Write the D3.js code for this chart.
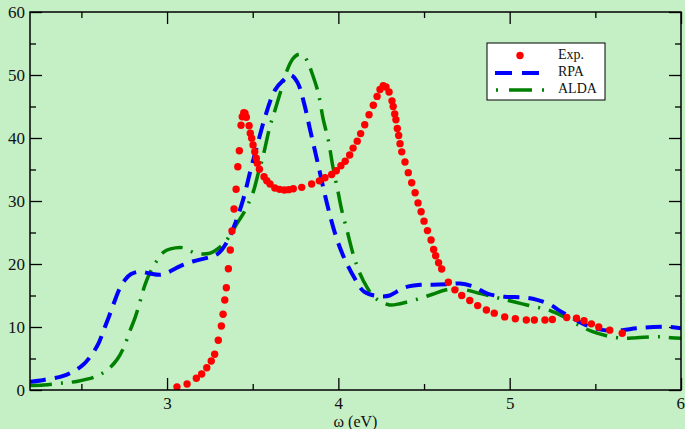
<!DOCTYPE html>
<html>
<head>
<meta charset="utf-8">
<script src="https://cdn.jsdelivr.net/npm/d3@7"></script>
<style>
  body { margin: 0; background: #c5efc5; }
  svg { display: block; }
  .tick text { font-family: "Liberation Serif", serif; font-size: 17px; fill: #111; }
  .domain { display: none; }
  .tick line { stroke: #000; stroke-width: 1.3; }
</style>
</head>
<body>
<div id="chart"></div>
<script>
// experimental loss spectrum (red dots)
var expW = [3.058, 3.117, 3.171, 3.202, 3.232, 3.258, 3.278, 3.299, 3.317, 3.327, 3.337, 3.346, 3.358, 3.369, 3.379, 3.391,
  3.403, 3.413, 3.422, 3.432, 3.439, 3.448, 3.455, 3.463, 3.479, 3.486, 3.494, 3.502, 3.512, 3.521, 3.527, 3.539,
  3.566, 3.582, 3.601, 3.629, 3.657, 3.685, 3.71, 3.737, 3.786, 3.844, 3.889, 3.922, 3.961, 3.988, 4.015, 4.04,
  4.066, 4.086, 4.11, 4.13, 4.154, 4.179, 4.204, 4.226, 4.243, 4.262, 4.278, 4.296, 4.313, 4.32, 4.329, 4.336,
  4.344, 4.352, 4.36, 4.37, 4.389, 4.408, 4.428, 4.448, 4.465, 4.483, 4.50, 4.52, 4.541, 4.556, 4.568, 4.585,
  4.603, 4.642, 4.68, 4.72, 4.767, 4.813, 4.864, 4.91, 4.971, 5.033, 5.097, 5.144, 5.206, 5.249, 5.333, 5.39,
  5.434, 5.477, 5.52, 5.584, 5.657];
var expV = [0.5, 0.95, 1.86, 2.54, 3.54, 4.6, 5.67, 7.89, 10.16, 12.02, 14.29, 16.24, 19.25, 22.22, 25.24, 28.73,
  31.86, 35.44, 37.98, 42.02, 43.38, 44.02, 43.92, 43.29, 41.95, 40.75, 39.95, 38.89, 37.83, 36.78, 35.98, 35.03,
  33.86, 33.22, 32.7, 32.06, 31.85, 31.75, 31.8, 31.95, 32.17, 32.7, 33.2, 33.7, 34.2, 34.8, 35.6, 36.3,
  37.3, 38.4, 39.5, 40.7, 42.1, 43.7, 45.2, 46.6, 47.7, 48.3, 48.1, 47.3, 45.9, 45.0, 43.8, 42.9,
  41.5, 40.4, 39.1, 37.8, 36.2, 34.5, 32.9, 31.3, 29.7, 28.3, 26.8, 25.3, 23.8, 22.3, 21.3, 20.2,
  19.2, 17.1, 15.9, 15.0, 14.2, 13.4, 12.7, 12.2, 11.6, 11.3, 11.1, 11.1, 11.1, 11.2, 11.5, 11.4,
  11.0, 10.5, 10.0, 9.5, 9.0];

// RPA (blue dashed)
var rpaW = [2.2, 2.28, 2.39, 2.45, 2.51, 2.56, 2.60, 2.63, 2.66, 2.69, 2.72, 2.755, 2.79, 2.84, 2.90, 2.96,
  3.0, 3.08, 3.15, 3.25, 3.30, 3.35, 3.39, 3.445, 3.49, 3.53, 3.575, 3.63, 3.68, 3.72, 3.76, 3.80,
  3.835, 3.88, 3.93, 3.98, 4.03, 4.10, 4.15, 4.23, 4.30, 4.34, 4.39, 4.48, 4.55, 4.65, 4.71, 4.79,
  4.87, 4.97, 5.08, 5.16, 5.24, 5.29, 5.37, 5.43, 5.51, 5.59, 5.66, 5.74, 5.84, 5.94, 6.0];
var rpaV = [1.3, 1.6, 2.2, 2.9, 4.0, 5.6, 7.4, 9.5, 11.6, 13.8, 15.9, 17.5, 18.4, 18.8, 18.5, 18.3,
  18.6, 19.7, 20.4, 21.1, 21.7, 23.5, 25.9, 30.3, 35.2, 39.2, 43.6, 47.6, 49.2, 50.0, 48.9, 45.5,
  41.3, 36.0, 30.0, 24.9, 21.2, 17.5, 15.6, 14.9, 15.0, 15.6, 16.3, 16.7, 16.7, 16.8, 16.9, 16.4,
  15.3, 14.8, 14.7, 14.3, 13.5, 12.6, 11.4, 10.5, 9.7, 9.4, 9.5, 9.8, 10.0, 10.0, 9.8];

// ALDA (green dash-dot)
var aldaW = [2.2, 2.28, 2.39, 2.48, 2.59, 2.66, 2.71, 2.745, 2.785, 2.815, 2.845, 2.87, 2.90, 2.94, 2.98, 3.02,
  3.09, 3.17, 3.25, 3.28, 3.34, 3.41, 3.445, 3.475, 3.505, 3.535, 3.556, 3.582, 3.60, 3.622, 3.66, 3.70,
  3.735, 3.77, 3.80, 3.825, 3.85, 3.883, 3.912, 3.941, 3.967, 4.0, 4.02, 4.05, 4.088, 4.126, 4.165, 4.204,
  4.25, 4.30, 4.36, 4.46, 4.55, 4.63, 4.72, 4.83, 4.905, 4.98, 5.1, 5.236, 5.333, 5.41, 5.48, 5.566,
  5.664, 5.742, 5.88, 5.94, 6.0];
var aldaV = [0.7, 0.8, 1.1, 1.4, 2.2, 3.4, 4.9, 6.6, 9.5, 11.6, 14.3, 16.6, 18.6, 20.5, 21.9, 22.4,
  22.6, 21.7, 21.7, 22.1, 23.5, 26.5, 28.0, 29.6, 31.6, 34.7, 36.6, 39.7, 41.8, 43.7, 47.1, 50.7,
  52.6, 53.3, 53.0, 51.8, 50.0, 47.1, 42.9, 39.7, 35.6, 31.2, 28.5, 25.4, 21.4, 18.5, 16.4, 14.9,
  14.0, 13.5, 13.7, 14.4, 15.2, 15.9, 16.0, 15.3, 14.8, 14.3, 13.5, 12.6, 11.4, 10.2, 9.3, 8.6,
  8.2, 8.3, 8.46, 8.3, 8.2];

var xMajor = [3, 4, 5, 6];
var xMinor = [2.5, 3.5, 4.5, 5.5];
var yMajor = [0, 10, 20, 30, 40, 50, 60];
var yMinor = [5, 15, 25, 35, 45, 55];

var margin = {top: 12, right: 4, bottom: 39, left: 30};
var width = 685 - margin.left - margin.right,
    height = 429 - margin.top - margin.bottom;

var svg = d3.select("#chart").append("svg")
    .attr("width", 685)
    .attr("height", 429)
    .append("g")
    .attr("transform", "translate(" + margin.left + "," + margin.top + ")");

var x = d3.scaleLinear().domain([2.2, 6]).range([0, width]);
var y = d3.scaleLinear().domain([0, 60]).range([height, 0]);

// ticks point inward on all four sides
svg.append("g").attr("transform", "translate(0," + height + ")")
    .call(d3.axisBottom(x).tickValues(xMajor).tickSize(-12).tickPadding(7).tickFormat(d3.format("d")));
svg.append("g").attr("transform", "translate(0," + height + ")")
    .call(d3.axisBottom(x).tickValues(xMinor).tickSize(-6).tickFormat(""));
svg.append("g")
    .call(d3.axisTop(x).tickValues(xMajor).tickSize(-12).tickFormat(""));
svg.append("g")
    .call(d3.axisTop(x).tickValues(xMinor).tickSize(-6).tickFormat(""));
svg.append("g")
    .call(d3.axisLeft(y).tickValues(yMajor).tickSize(-12).tickPadding(5));
svg.append("g")
    .call(d3.axisLeft(y).tickValues(yMinor).tickSize(-6).tickFormat(""));
svg.append("g").attr("transform", "translate(" + width + ",0)")
    .call(d3.axisRight(y).tickValues(yMajor).tickSize(-12).tickFormat(""));
svg.append("g").attr("transform", "translate(" + width + ",0)")
    .call(d3.axisRight(y).tickValues(yMinor).tickSize(-6).tickFormat(""));

svg.selectAll(".tick text").filter(function(d) { return d === 6; }).attr("text-anchor", "end").attr("dx", "0.2em");

var line = function(ws, vs) {
    return d3.line()
        .x(function(d, i) { return x(ws[i]); })
        .y(function(d, i) { return y(vs[i]); })
        .curve(d3.curveCatmullRom.alpha(0.5))(ws);
};

svg.append("defs").append("clipPath").attr("id", "clip")
    .append("rect").attr("width", width).attr("height", height);

var plot = svg.append("g").attr("clip-path", "url(#clip)");

plot.append("path")
    .attr("d", line(aldaW, aldaV))
    .attr("fill", "none")
    .attr("stroke", "#008000")
    .attr("stroke-width", 3.5)
    .attr("stroke-dasharray", "22,9,2,9");

plot.append("path")
    .attr("d", line(rpaW, rpaV))
    .attr("fill", "none")
    .attr("stroke", "#0000ff")
    .attr("stroke-width", 4)
    .attr("stroke-dasharray", "16,9");

plot.selectAll("circle.exp")
    .data(expW)
    .enter().append("circle")
    .attr("class", "exp")
    .attr("cx", function(d) { return x(d); })
    .attr("cy", function(d, i) { return y(expV[i]); })
    .attr("r", 3.7)
    .attr("fill", "#ff0000");

// frame
svg.append("rect")
    .attr("width", width)
    .attr("height", height)
    .attr("fill", "none")
    .attr("stroke", "#000")
    .attr("stroke-width", 1.5);

// axis label
svg.append("text")
    .attr("x", x(4.1))
    .attr("y", height + 37)
    .attr("text-anchor", "middle")
    .style("font-family", "'Liberation Serif', serif")
    .style("font-size", "16px")
    .attr("fill", "#111")
    .text("ω (eV)");

// legend
var lg = svg.append("g").attr("transform", "translate(" + (487 - margin.left) + "," + (43 - margin.top) + ")");
lg.append("rect")
    .attr("width", 118)
    .attr("height", 57)
    .attr("fill", "#fff")
    .attr("stroke", "#000")
    .attr("stroke-width", 1);
lg.append("circle").attr("cx", 33).attr("cy", 12.5).attr("r", 3.7).attr("fill", "#ff0000");
lg.append("line").attr("x1", 8).attr("x2", 52).attr("y1", 30).attr("y2", 30)
    .attr("stroke", "#0000ff").attr("stroke-width", 4).attr("stroke-dasharray", "17,10");
lg.append("line").attr("x1", 9).attr("x2", 58).attr("y1", 47).attr("y2", 47)
    .attr("stroke", "#008000").attr("stroke-width", 3.5).attr("stroke-dasharray", "2,11,23,10");
var labels = ["Exp.", "RPA", "ALDA"];
lg.selectAll("text.lab")
    .data(labels)
    .enter().append("text")
    .attr("x", 71)
    .attr("y", function(d, i) { return 16 + i * 17; })
    .style("font-family", "'Liberation Serif', serif")
    .style("font-size", "14px")
    .attr("fill", "#111")
    .text(function(d) { return d; });
</script>
</body>
</html>
